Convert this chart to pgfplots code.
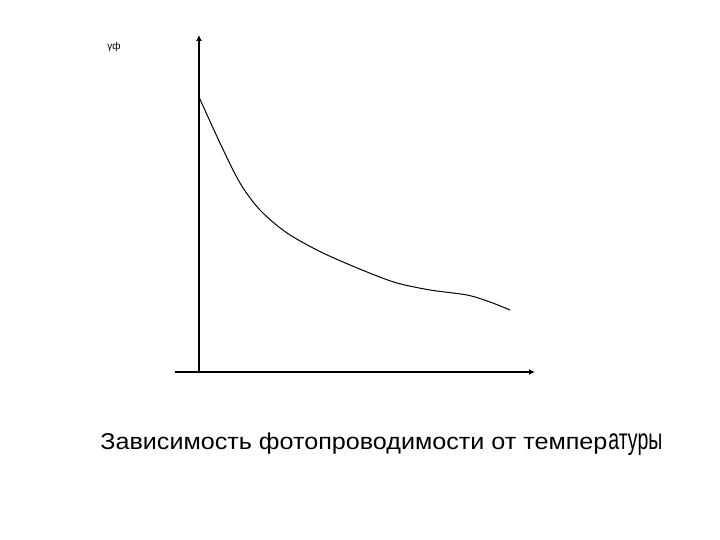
\documentclass[border=0pt]{standalone}
\usepackage{fontspec}
\setmainfont{Liberation Sans}
\usepackage{graphicx}
\usepackage{pgfplots}
\pgfplotsset{compat=1.18}
\usetikzlibrary{arrows.meta}
\newcommand{\wfit}[2]{\resizebox{#1}{\height}{#2}}
\begin{document}
\begin{tikzpicture}
\begin{axis}[
  x=0.5bp, y=0.5bp,
  axis lines=middle,
  xmin=-24, xmax=336, ymin=0, ymax=337,
  xtick=\empty, ytick=\empty,
  axis line style={line width=1.1bp, -{Latex[length=3bp,width=3bp]}},
  clip=false,
]
\addplot[black, line width=0.5bp, smooth, tension=0.5] coordinates {
 (0,275) (21,229) (41,189) (61,162) (88,139) (124,119) (168,100)
 (198,89) (231,82) (268,77) (291,70) (311,62)
};
\node[anchor=base west, inner sep=0pt, font=\fontsize{5}{6}\selectfont] at (axis cs:-92,322) {γф};
\node[anchor=base west, inner sep=0pt, font=\fontsize{11.5}{13}\selectfont] at (axis cs:-99,-78) {\wfit{253.5bp}{Зависимость фотопроводимости от темпер}};
\node[anchor=base west, inner sep=0pt, font=\fontsize{14.7}{16}\selectfont] at (axis cs:409,-78) {\wfit{27bp}{атуры}};
\coordinate (bl) at (axis cs:-199,-168);
\coordinate (tr) at (axis cs:521,372);
\end{axis}
\path (bl) rectangle (tr);
\end{tikzpicture}
\end{document}
